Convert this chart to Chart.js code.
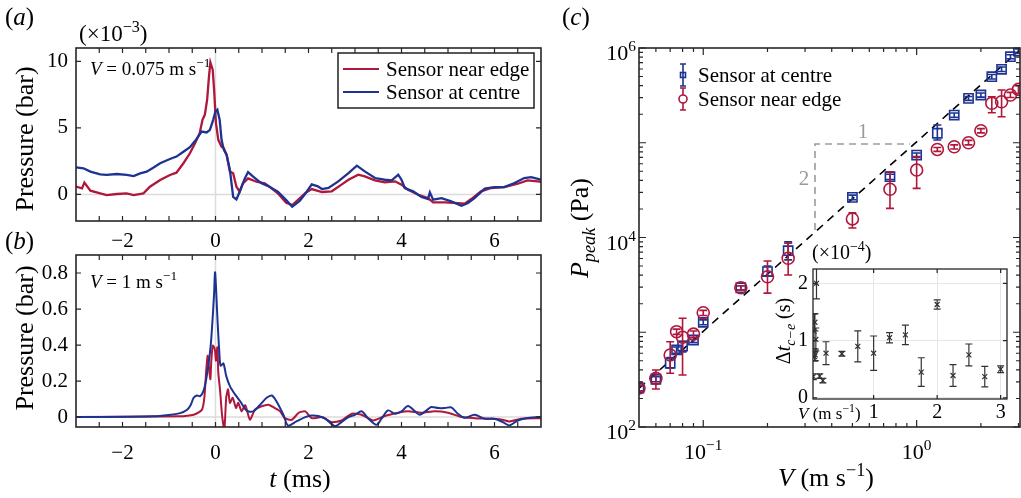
<!DOCTYPE html>
<html lang="en">
<head>
<meta charset="UTF-8">
<meta name="viewport" content="width=device-width, initial-scale=1.0">
<title>Impact pressure at centre and edge</title>
<script src="https://cdn.jsdelivr.net/npm/chart.js"></script>
<style>
  body { margin: 0; background: #fff; }
  #fig { position: relative; width: 1021px; height: 498px; overflow: hidden; }
  #fig canvas { position: absolute; }
</style>
</head>
<body>
<div id="fig">
  <canvas id="chartA" width="560" height="255" style="left:0;top:0"></canvas>
  <canvas id="chartB" width="560" height="273" style="left:0;top:225px"></canvas>
  <canvas id="chartC" width="461" height="498" style="left:560px;top:0"></canvas>
  <canvas id="chartInset" width="250" height="185" style="left:760px;top:240px"></canvas>
</div>
<script>
const SERIF = '"Liberation Serif", "Times New Roman", serif';
const RED = '#b0173b';
const BLUE = '#1c3392';

// (a) V = 0.075 m/s : [t (ms), pressure (x1e-3 bar)]
const edgeA = [[-3,0.58],[-2.87,0.45],[-2.82,0.88],[-2.69,0.28],[-2.48,0.08],[-2.34,-0.05],[-2.12,0.03],[-1.91,0.08],[-1.76,-0.05],[-1.55,0.08],[-1.41,0.58],[-1.19,1.08],[-0.98,1.46],[-0.84,1.63],[-0.69,2.34],[-0.55,3.09],[-0.44,3.84],[-0.34,4.6],[-0.28,5.6],[-0.23,5.98],[-0.18,7.11],[-0.14,8.87],[-0.11,9.92],[-0.06,9.37],[-0.03,7.86],[0.01,5.35],[0.06,4.1],[0.13,3.59],[0.18,3.47],[0.24,2.96],[0.31,1.71],[0.38,1.58],[0.45,0.58],[0.52,0.2],[0.59,0.83],[0.7,1.2],[0.88,0.95],[1.06,0.83],[1.16,0.58],[1.34,0.08],[1.52,-0.63],[1.65,-0.8],[1.81,-0.3],[1.93,0.1],[2.07,0.4],[2.29,0.18],[2.5,0.23],[2.71,0.73],[2.86,1.1],[3.07,1.48],[3.21,1.35],[3.43,1.05],[3.64,0.9],[3.86,0.98],[4.0,0.73],[4.14,0.35],[4.36,-0.03],[4.57,-0.28],[4.68,-0.6],[4.93,-0.6],[5.21,-0.65],[5.36,-0.7],[5.5,-0.35],[5.71,0.23],[5.93,0.48],[6.21,0.55],[6.5,0.8],[6.71,1.05],[6.93,0.98],[7,0.95]];
const centreA = [[-3,2.03],[-2.84,1.96],[-2.69,1.71],[-2.48,1.5],[-2.34,1.46],[-2.12,1.53],[-1.91,1.46],[-1.76,1.38],[-1.62,1.58],[-1.48,1.71],[-1.34,2.0],[-1.19,2.34],[-0.98,2.66],[-0.84,2.84],[-0.69,3.2],[-0.55,3.54],[-0.41,4.15],[-0.3,4.72],[-0.19,4.65],[-0.12,4.85],[-0.05,5.6],[0,6.23],[0.04,6.36],[0.09,5.6],[0.13,4.1],[0.18,3.34],[0.24,2.96],[0.31,1.83],[0.38,-0.18],[0.45,-0.38],[0.52,0.2],[0.63,1.2],[0.7,1.68],[0.81,1.33],[0.99,0.83],[1.16,0.58],[1.34,0.2],[1.52,-0.43],[1.65,-0.93],[1.81,-0.5],[1.93,0.05],[2.07,0.75],[2.2,0.6],[2.29,0.4],[2.43,0.48],[2.64,0.98],[2.86,1.6],[3.04,2.16],[3.21,1.73],[3.43,1.23],[3.64,1.1],[3.79,1.05],[3.93,1.48],[4.0,1.1],[4.07,0.48],[4.25,0.23],[4.43,-0.2],[4.57,-0.35],[4.61,0.15],[4.68,-0.4],[4.86,-0.28],[5.07,-0.53],[5.29,-0.85],[5.43,-0.65],[5.57,-0.28],[5.79,0.43],[6.0,0.55],[6.21,0.55],[6.43,0.85],[6.64,1.23],[6.79,1.3],[7,1.1]];

// (b) V = 1 m/s : [t (ms), pressure (bar)]
const edgeB = [[-3,0],[-0.76,0.004],[-0.61,0.007],[-0.47,0.013],[-0.36,0.026],[-0.29,0.041],[-0.24,0.107],[-0.2,0.257],[-0.17,0.341],[-0.14,0.275],[-0.11,0.21],[-0.09,0.313],[-0.06,0.397],[-0.03,0.388],[-0.01,0.369],[0.01,0.313],[0.04,0.388],[0.06,0.247],[0.1,0.144],[0.14,0.013],[0.19,-0.071],[0.23,0.107],[0.27,0.154],[0.31,0.079],[0.37,0.107],[0.44,0.051],[0.49,0.079],[0.56,0.032],[0.64,0.066],[0.74,-0.015],[0.85,0.041],[0.99,0.06],[1.14,0.069],[1.27,0.051],[1.39,0.032],[1.49,-0.006],[1.64,-0.015],[1.79,0.024],[1.93,0.032],[2.07,-0.006],[2.29,0],[2.5,-0.028],[2.71,-0.019],[2.93,0.019],[3.14,0.013],[3.39,-0.019],[3.64,0.006],[3.93,0.024],[4.14,0.032],[4.43,0.024],[4.71,0.032],[5.0,0.024],[5.29,0],[5.57,-0.006],[5.86,-0.009],[6.14,-0.013],[6.32,-0.024],[6.57,-0.009],[6.93,-0.006],[7,-0.006]];
const centreB = [[-3,0],[-1.33,0.004],[-0.97,0.013],[-0.76,0.022],[-0.61,0.041],[-0.53,0.069],[-0.47,0.107],[-0.4,0.12],[-0.33,0.116],[-0.26,0.144],[-0.2,0.21],[-0.15,0.294],[-0.1,0.407],[-0.06,0.556],[-0.03,0.688],[-0.01,0.804],[0.01,0.725],[0.04,0.556],[0.08,0.369],[0.11,0.285],[0.17,0.298],[0.23,0.229],[0.31,0.172],[0.42,0.126],[0.53,0.088],[0.67,0.036],[0.81,0.032],[0.96,0.069],[1.1,0.107],[1.21,0.12],[1.31,0.088],[1.46,0.013],[1.56,-0.047],[1.74,-0.024],[1.93,0],[2.07,0.009],[2.21,0.006],[2.36,-0.009],[2.57,-0.05],[2.71,-0.028],[2.86,0],[3.0,0.013],[3.14,0.032],[3.29,-0.009],[3.46,-0.043],[3.57,-0.009],[3.71,0.037],[3.86,0.019],[4.0,0.032],[4.14,0.061],[4.29,0.032],[4.39,0.013],[4.54,0.037],[4.64,0.056],[4.79,0.05],[4.93,0.05],[5.07,0.054],[5.21,0.019],[5.36,-0.004],[5.57,0.013],[5.79,-0.009],[6.0,-0.009],[6.18,-0.028],[6.32,-0.046],[6.5,-0.019],[6.68,-0.006],[6.93,0],[7,0]];

// (c) peak pressure (Pa) against impact speed (m/s)
const speedV = [0.05, 0.06, 0.07, 0.075, 0.08, 0.09, 0.1, 0.15, 0.2, 0.25, 0.5, 0.75, 1, 1.25, 1.5, 1.75, 2, 2.25, 2.5, 2.75, 3];
const centreP  = [258, 319, 470, 650, 716, 828, 1273, 2950, 4370, 7260, 26500, 43800, 74100, 126000, 196000, 294000, 319000, 498000, 596000, 809000, 930000];
const centreLo = [240, 300, 420, 600, 620, 780, 1200, 2800, 3900, 5800, 25000, 41000, 70000, 107000, 186000, 280000, 303000, 470000, 565000, 770000, 880000];
const centreHi = [275, 340, 540, 700, 800, 880, 1350, 3100, 5000, 9000, 28000, 46500, 78000, 154000, 206000, 308000, 335000, 525000, 630000, 850000, 980000];
const edgeP  = [258, 326, 575, 1014, 885, 955, 1607, 2950, 3855, 6030, 15700, 32300, 51500, 85000, 90700, 100000, 134000, 261000, 271000, 319000, 366000];
const edgeLo = [240, 252, 369, 950, 354, 880, 1500, 2800, 2590, 4020, 12600, 20300, 33000, 81000, 86000, 95000, 127000, 207000, 188000, 300000, 330000];
const edgeHi = [275, 400, 794, 1080, 1403, 1030, 1700, 3100, 5650, 8690, 18200, 49400, 71300, 89000, 95000, 106000, 141000, 306000, 361000, 340000, 400000];
const fitV = [0.05, 3];
const fitP = [256, 921600];
const slopeV = [0.334, 0.334, 0.93];
const slopeP = [12000, 97000, 97000];

// inset: delay between centre and edge (x1e-4 s)
const delayDt  = [0.37, 1.16, 0.72, 1.32, 0.75, 1.02, 2.0, 0.38, 0.3, 0.78, 0.77, 0.9, 0.78, 1.05, 1.1, 0.45, 1.63, 0.39, 0.75, 0.37, 0.5];
const delayErr = [0.05, 0.3, 0.08, 0.15, 0.1, 0.2, 0.27, 0.04, 0.04, 0.2, 0.04, 0.27, 0.3, 0.09, 0.17, 0.25, 0.08, 0.19, 0.19, 0.18, 0.06];

const tTicks = [-2, 0, 2, 4, 6];
const tMinor = [-2.5, -1.5, -1, -0.5, 0.5, 1, 1.5, 2.5, 3, 3.5, 4.5, 5, 5.5, 6.5];
const aTicks = [0, 5, 10];
const bTicks = [0, 0.2, 0.4, 0.6, 0.8];
const vMajor = [0.1, 1];
const vMinor = [0.06, 0.07, 0.08, 0.09, 0.2, 0.3, 0.4, 0.5, 0.6, 0.7, 0.8, 0.9, 2, 3];
const pMajor = [1e2, 1e3, 1e4, 1e5, 1e6];
const pMinor = [];
[1e2, 1e3, 1e4, 1e5].forEach(d => { for (let k = 2; k <= 9; k++) pMinor.push(d * k); });

Chart.defaults.font.family = SERIF;
Chart.defaults.font.size = 21;
Chart.defaults.color = '#000';

const pairs = arr => arr.map(p => ({x: p[0], y: p[1]}));
const zip = (xs, ys) => xs.map((x, i) => ({x: x, y: ys[i]}));
const minus = v => String(v).replace('-', '\u2212');

function runFont(style, size) {
  const s = (style.indexOf('sup') >= 0 || style.indexOf('sub') >= 0) ? size * 0.7 : size;
  return (style.indexOf('i') === 0 ? 'italic ' : '') + s + 'px ' + SERIF;
}
function drawRuns(ctx, runs, x, y, size, align, rot, color) {
  ctx.save();
  ctx.translate(x, y);
  if (rot) ctx.rotate(rot);
  let w = 0;
  runs.forEach(r => { ctx.font = runFont(r[1] || '', size); w += ctx.measureText(r[0]).width; });
  let cx = align === 'center' ? -w / 2 : align === 'right' ? -w : 0;
  ctx.fillStyle = color || '#000';
  ctx.textBaseline = 'alphabetic';
  ctx.textAlign = 'left';
  runs.forEach(r => {
    const st = r[1] || '';
    ctx.font = runFont(st, size);
    const dy = st.indexOf('sup') >= 0 ? -size * 0.4 : st.indexOf('sub') >= 0 ? size * 0.25 : 0;
    ctx.fillText(r[0], cx, dy);
    cx += ctx.measureText(r[0]).width;
  });
  ctx.restore();
}

function framePlugin(cfg) {
  return {
    id: 'frame',
    afterDraw(chart) {
      const {ctx, chartArea: a, scales} = chart;
      ctx.save();
      ctx.strokeStyle = '#262626';
      ctx.lineWidth = 1.2;
      ctx.beginPath();
      const tx = (vals, len) => vals.forEach(v => {
        const x = scales.x.getPixelForValue(v);
        ctx.moveTo(x, a.bottom); ctx.lineTo(x, a.bottom - len);
        ctx.moveTo(x, a.top); ctx.lineTo(x, a.top + len);
      });
      const ty = (vals, len) => vals.forEach(v => {
        const y = scales.y.getPixelForValue(v);
        ctx.moveTo(a.left, y); ctx.lineTo(a.left + len, y);
        ctx.moveTo(a.right, y); ctx.lineTo(a.right - len, y);
      });
      tx(cfg.xMajor || [], cfg.major);
      tx(cfg.xMinor || [], cfg.minor);
      ty(cfg.yMajor || [], cfg.major);
      ty(cfg.yMinor || [], cfg.minor);
      ctx.stroke();
      ctx.lineWidth = cfg.width || 1.6;
      ctx.strokeRect(a.left, a.top, a.right - a.left, a.bottom - a.top);
      ctx.restore();
    }
  };
}

function notesPlugin(ox, oy, draw) {
  return {
    id: 'notes',
    afterDraw(chart) {
      const ctx = chart.ctx;
      ctx.save();
      ctx.translate(-ox, -oy);
      draw(ctx, chart, ox, oy);
      ctx.restore();
    }
  };
}

const zeroLines = {
  id: 'zeroLines',
  beforeDatasetsDraw(chart) {
    const {ctx, chartArea: a, scales} = chart;
    const x0 = scales.x.getPixelForValue(0), y0 = scales.y.getPixelForValue(0);
    ctx.save();
    ctx.strokeStyle = '#dcdcdc';
    ctx.lineWidth = 1.5;
    ctx.beginPath();
    ctx.moveTo(x0, a.top); ctx.lineTo(x0, a.bottom);
    ctx.moveTo(a.left, y0); ctx.lineTo(a.right, y0);
    ctx.stroke();
    ctx.restore();
  }
};

const errorBars = {
  id: 'errorBars',
  afterDatasetDraw(chart, args) {
    const ds = chart.data.datasets[args.index];
    if (!ds.errLo) return;
    const {ctx, chartArea: a, scales} = chart;
    ctx.save();
    ctx.beginPath();
    ctx.rect(a.left, a.top, a.right - a.left, a.bottom - a.top);
    ctx.clip();
    ctx.strokeStyle = ds.borderColor;
    ctx.lineWidth = ds.errWidth || 1.5;
    const c = ds.capW / 2;
    ctx.beginPath();
    ds.data.forEach((p, j) => {
      const x = scales.x.getPixelForValue(p.x);
      const y1 = scales.y.getPixelForValue(ds.errLo[j]);
      const y2 = scales.y.getPixelForValue(ds.errHi[j]);
      ctx.moveTo(x, y1); ctx.lineTo(x, y2);
      ctx.moveTo(x - c, y1); ctx.lineTo(x + c, y1);
      ctx.moveTo(x - c, y2); ctx.lineTo(x + c, y2);
    });
    ctx.stroke();
    ctx.restore();
  }
};

function timeAxis(h, pad) {
  return {
    type: 'linear', min: -3, max: 7,
    afterFit: s => { s.height = h; },
    afterBuildTicks: s => { s.ticks = tTicks.map(v => ({value: v})); },
    grid: {display: false, drawTicks: false}, border: {display: false},
    ticks: {padding: pad, maxRotation: 0, autoSkip: false, callback: v => minus(v)}
  };
}
function valueAxis(min, max, ticks, w, fmt) {
  return {
    type: 'linear', min: min, max: max,
    afterFit: s => { s.width = w; },
    afterBuildTicks: s => { s.ticks = ticks.map(v => ({value: v})); },
    grid: {display: false, drawTicks: false}, border: {display: false},
    ticks: {padding: 8, autoSkip: false, callback: fmt}
  };
}
const common = {
  responsive: false, animation: false, events: [],
  plugins: {legend: {display: false}, tooltip: {enabled: false}}
};

// ---------- (a) ----------
new Chart(document.getElementById('chartA'), {
  type: 'scatter',
  data: {datasets: [
    {label: 'Sensor at centre', data: pairs(centreA), showLine: true, borderColor: BLUE, borderWidth: 2.3, pointRadius: 0},
    {label: 'Sensor near edge', data: pairs(edgeA), showLine: true, borderColor: RED, borderWidth: 2.3, pointRadius: 0}
  ]},
  options: Object.assign({}, common, {
    layout: {padding: {top: 48, right: 19, left: 0, bottom: 0}, autoPadding: false},
    scales: {x: timeAxis(34, 8), y: valueAxis(-2, 11, aTicks, 76, v => String(v))}
  }),
  plugins: [zeroLines, framePlugin({xMajor: tTicks, xMinor: tMinor, yMajor: aTicks, major: 5, minor: 5}),
    notesPlugin(0, 0, (ctx) => {
      drawRuns(ctx, [['('], ['a', 'i'], [')']], 5, 25, 25, 'left');
      drawRuns(ctx, [['(\u00d710'], ['\u22123', 'sup'], [')']], 79, 41, 23, 'left');
      drawRuns(ctx, [['V', 'i'], [' = 0.075 m s'], ['\u22121', 'sup']], 90, 75, 19, 'left');
      drawRuns(ctx, [['Pressure (bar)']], 33, 139, 26, 'center', -Math.PI / 2);
      ctx.fillStyle = '#fff';
      ctx.fillRect(338, 53, 196, 55);
      ctx.strokeStyle = '#222'; ctx.lineWidth = 1.5;
      ctx.strokeRect(338, 53, 196, 55);
      ctx.lineWidth = 2;
      ctx.strokeStyle = RED; ctx.beginPath(); ctx.moveTo(343, 69); ctx.lineTo(379, 69); ctx.stroke();
      ctx.strokeStyle = BLUE; ctx.beginPath(); ctx.moveTo(343, 92); ctx.lineTo(379, 92); ctx.stroke();
      drawRuns(ctx, [['Sensor near edge']], 386, 76, 21, 'left');
      drawRuns(ctx, [['Sensor at centre']], 386, 99, 21, 'left');
    })]
});

// ---------- (b) ----------
new Chart(document.getElementById('chartB'), {
  type: 'scatter',
  data: {datasets: [
    {label: 'Sensor at centre', data: pairs(centreB), showLine: true, borderColor: BLUE, borderWidth: 2, pointRadius: 0, tension: 0.3},
    {label: 'Sensor near edge', data: pairs(edgeB), showLine: true, borderColor: RED, borderWidth: 2, pointRadius: 0, tension: 0.2}
  ]},
  options: Object.assign({}, common, {
    layout: {padding: {top: 30, right: 19, left: 0, bottom: 0}, autoPadding: false},
    scales: {x: timeAxis(71, 14), y: valueAxis(-0.055, 0.9, bTicks, 76, v => v === 0 ? '0' : v.toFixed(1))}
  }),
  plugins: [zeroLines, framePlugin({xMajor: tTicks, xMinor: tMinor, yMajor: bTicks, major: 5, minor: 5}),
    notesPlugin(0, 225, (ctx) => {
      drawRuns(ctx, [['('], ['b', 'i'], [')']], 5, 249, 25, 'left');
      drawRuns(ctx, [['V', 'i'], [' = 1 m s'], ['\u22121', 'sup']], 90, 288, 19, 'left');
      drawRuns(ctx, [['Pressure (bar)']], 33, 338, 26, 'center', -Math.PI / 2);
      drawRuns(ctx, [['t', 'i'], [' (ms)']], 300, 487, 26, 'center');
    })]
});

// ---------- (c) ----------
new Chart(document.getElementById('chartC'), {
  type: 'scatter',
  data: {datasets: [
    {label: 'Sensor near edge', data: zip(speedV, edgeP), errLo: edgeLo, errHi: edgeHi, capW: 8, errWidth: 1.6,
     borderColor: RED, backgroundColor: 'rgba(0,0,0,0)', pointStyle: 'circle', pointRadius: 6, borderWidth: 1.6},
    {label: 'Sensor at centre', data: zip(speedV, centreP), errLo: centreLo, errHi: centreHi, capW: 8, errWidth: 1.6,
     borderColor: BLUE, backgroundColor: 'rgba(0,0,0,0)', pointStyle: 'rect', pointRadius: 6.5, borderWidth: 1.6},
    {label: 'fit', data: zip(fitV, fitP), showLine: true, borderColor: '#000', borderWidth: 1.6, borderDash: [8, 6], pointRadius: 0},
    {label: 'slope', data: zip(slopeV, slopeP), showLine: true, borderColor: '#9a9a9a', borderWidth: 1.6, borderDash: [7, 5], pointRadius: 0}
  ]},
  options: Object.assign({}, common, {
    layout: {padding: {top: 48, right: 1, left: 0, bottom: 0}, autoPadding: false},
    scales: {
      x: {type: 'logarithmic', min: 0.05, max: 3.05, afterFit: s => { s.height = 71; },
          grid: {display: false, drawTicks: false}, border: {display: false}, ticks: {display: false}},
      y: {type: 'logarithmic', min: 1e2, max: 1e6, afterFit: s => { s.width = 79; },
          grid: {display: false, drawTicks: false}, border: {display: false}, ticks: {display: false}}
    }
  }),
  plugins: [errorBars, framePlugin({xMajor: vMajor, xMinor: vMinor, yMajor: pMajor, yMinor: pMinor, major: 7, minor: 4}),
    notesPlugin(560, 0, (ctx, chart, ox) => {
      const sx = chart.scales.x, sy = chart.scales.y;
      [[1e2, '2'], [1e4, '4'], [1e6, '6']].forEach(t => {
        drawRuns(ctx, [['10'], [t[1], 'sup']], 636, sy.getPixelForValue(t[0]) + 12, 22, 'right');
      });
      [[0.1, '\u22121'], [1, '0']].forEach(t => {
        drawRuns(ctx, [['10'], [t[1], 'sup']], sx.getPixelForValue(t[0]) + ox, 459, 22, 'center');
      });
      drawRuns(ctx, [['('], ['c', 'i'], [')']], 562, 25, 25, 'left');
      drawRuns(ctx, [['P', 'i'], ['peak', 'isub'], [' (Pa)']], 588, 228, 26, 'center', -Math.PI / 2);
      drawRuns(ctx, [['V', 'i'], [' (m s'], ['\u22121', 'sup'], [')']], 826, 486, 26, 'center');
      drawRuns(ctx, [['1']], 863, 138, 21, 'center', 0, '#9a9a9a');
      drawRuns(ctx, [['2']], 804, 185, 21, 'center', 0, '#9a9a9a');
      // legend
      ctx.lineWidth = 1.6;
      ctx.strokeStyle = BLUE;
      ctx.beginPath();
      ctx.moveTo(683, 64); ctx.lineTo(683, 86);
      ctx.moveTo(680, 64); ctx.lineTo(686, 64);
      ctx.moveTo(680, 86); ctx.lineTo(686, 86);
      ctx.stroke();
      ctx.strokeRect(680.5, 72.5, 5, 5);
      ctx.strokeStyle = RED;
      ctx.beginPath();
      ctx.moveTo(683, 88); ctx.lineTo(683, 110);
      ctx.moveTo(680, 88); ctx.lineTo(686, 88);
      ctx.moveTo(680, 110); ctx.lineTo(686, 110);
      ctx.stroke();
      ctx.fillStyle = '#fff';
      ctx.beginPath(); ctx.arc(683, 99, 4, 0, Math.PI * 2); ctx.fill(); ctx.stroke();
      drawRuns(ctx, [['Sensor at centre']], 698, 82, 21, 'left');
      drawRuns(ctx, [['Sensor near edge']], 698, 106, 21, 'left');
    })]
});

// ---------- inset ----------
const insetBg = {
  id: 'insetBg',
  beforeDraw(chart) {
    const {ctx, chartArea: a} = chart;
    ctx.save();
    ctx.fillStyle = '#fff';
    ctx.fillRect(a.left, a.top, a.right - a.left, a.bottom - a.top);
    ctx.restore();
  }
};
new Chart(document.getElementById('chartInset'), {
  type: 'scatter',
  data: {datasets: [
    {label: 'delay', data: zip(speedV, delayDt),
     errLo: delayDt.map((v, i) => v - delayErr[i]), errHi: delayDt.map((v, i) => v + delayErr[i]),
     capW: 7, errWidth: 1.2, borderColor: '#333', pointStyle: 'crossRot', pointRadius: 3.5, borderWidth: 1.2}
  ]},
  options: Object.assign({}, common, {
    layout: {padding: {top: 29, right: 3, left: 0, bottom: 0}, autoPadding: false},
    scales: {
      x: {type: 'linear', min: 0.045, max: 3.1, afterFit: s => { s.height = 26; },
          afterBuildTicks: s => { s.ticks = [1, 2, 3].map(v => ({value: v})); },
          grid: {color: '#e6e6e6', drawTicks: false}, border: {display: false},
          ticks: {padding: 2, font: {size: 20}, autoSkip: false, maxRotation: 0}},
      y: {type: 'linear', min: -0.02, max: 2.25, afterFit: s => { s.width = 53; },
          afterBuildTicks: s => { s.ticks = [0, 1, 2].map(v => ({value: v})); },
          grid: {color: '#e6e6e6', drawTicks: false}, border: {display: false},
          ticks: {padding: 5, font: {size: 20}, autoSkip: false}}
    }
  }),
  plugins: [insetBg, errorBars, framePlugin({xMajor: [1, 2, 3], yMajor: [0, 1, 2], major: 4, minor: 3, width: 1.3}),
    notesPlugin(760, 240, (ctx) => {
      drawRuns(ctx, [['(\u00d710'], ['\u22124', 'sup'], [')']], 812, 259, 20, 'left');
      drawRuns(ctx, [['\u0394'], ['t', 'i'], ['c\u2212e', 'isub'], [' (s)']], 790, 331, 20, 'center', -Math.PI / 2);
      drawRuns(ctx, [['V', 'i'], [' (m s'], ['\u22121', 'sup'], [')']], 798, 419, 17, 'left');
    })]
});
</script>
</body>
</html>
